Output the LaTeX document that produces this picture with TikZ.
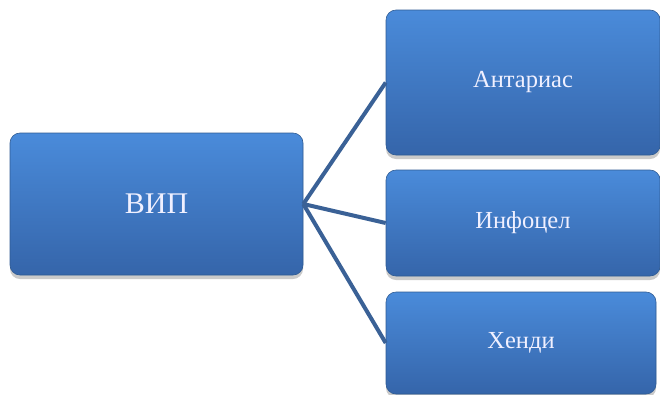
\documentclass[tikz,border=0pt]{standalone}
\usepackage{fontspec}
\setmainfont{Liberation Serif}
\usetikzlibrary{shadows}

\definecolor{boxtop}{HTML}{4A8BDA}
\definecolor{boxbot}{HTML}{3565AA}
\definecolor{boxline}{HTML}{2F5B93}
\definecolor{linkcol}{HTML}{3A6196}

\tikzset{
	unit/.style={draw=boxline, line width=0.6pt, rounded corners=10pt,
		top color=boxtop, bottom color=boxbot, text=white!94!blue,
		drop shadow={shadow xshift=0pt, shadow yshift=-4pt, opacity=0.35, fill=black!60},
		font=\fontsize{24.5}{28}\selectfont},
	link/.style={draw=linkcol, line width=4pt}
}

\begin{document}
\begin{tikzpicture}[x=1pt,y=-1pt]
		\useasboundingbox (0,0) rectangle (660,394);
		\node[unit, minimum width=293pt, minimum height=142pt, font=\fontsize{30}{34}\selectfont] (vip) at (156.5,204) {ВИП};
		\node[unit, minimum width=274pt, minimum height=145pt] (ant) at (523,82.5) {Антариас};
		\node[unit, minimum width=274pt, minimum height=106pt] (inf) at (523,223) {Инфоцел};
		\node[unit, minimum width=270pt, minimum height=102pt] (hen) at (521,343) {Хенди};
		%
		\path[link]
		% links to the right
		(vip.east) edge (ant.west)
		(vip.east) edge (inf.west)
		(vip.east) edge (hen.west);
	\end{tikzpicture}
\end{document}
